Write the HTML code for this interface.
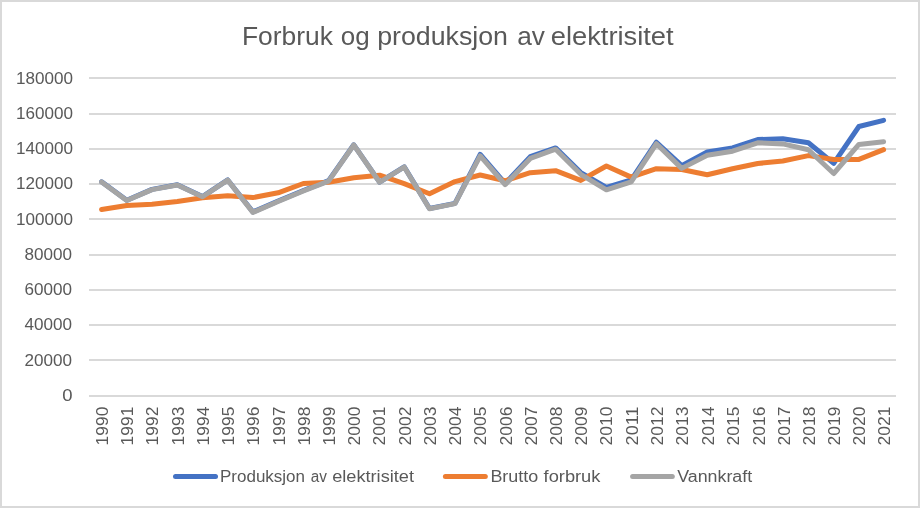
<!DOCTYPE html>
<html lang="no"><head><meta charset="utf-8"><title>Forbruk og produksjon av elektrisitet</title>
<style>
html,body{margin:0;padding:0;background:#fff;}
body{width:920px;height:508px;overflow:hidden;}
svg{display:block;}
text{font-family:"Liberation Sans",sans-serif;fill:#595959;}
.ax{font-size:16.2px;}
.title{font-size:25.2px;}
.lg{font-size:16px;}
</style></head><body>
<svg width="920" height="508" viewBox="0 0 920 508">
<rect x="0" y="0" width="920" height="508" fill="#fff"/>
<rect x="1" y="1" width="918" height="506" fill="none" stroke="#d9d9d9" stroke-width="2"/>
<g><text x="241.9" y="45.0" class="title" textLength="91.00" lengthAdjust="spacingAndGlyphs">Forbruk</text><text x="340.7" y="45.0" class="title" textLength="28.90" lengthAdjust="spacingAndGlyphs">og</text><text x="377.2" y="45.0" class="title" textLength="130.80" lengthAdjust="spacingAndGlyphs">produksjon</text><text x="517.2" y="45.0" class="title" textLength="27.70" lengthAdjust="spacingAndGlyphs">av</text><text x="550.8" y="45.0" class="title" textLength="122.80" lengthAdjust="spacingAndGlyphs">elektrisitet</text></g>
<g><line x1="89" x2="896" y1="396" y2="396" stroke="#d9d9d9" stroke-width="2"/><line x1="89" x2="896" y1="360" y2="360" stroke="#d9d9d9" stroke-width="2"/><line x1="89" x2="896" y1="325" y2="325" stroke="#d9d9d9" stroke-width="2"/><line x1="89" x2="896" y1="290" y2="290" stroke="#d9d9d9" stroke-width="2"/><line x1="89" x2="896" y1="255" y2="255" stroke="#d9d9d9" stroke-width="2"/><line x1="89" x2="896" y1="219" y2="219" stroke="#d9d9d9" stroke-width="2"/><line x1="89" x2="896" y1="184" y2="184" stroke="#d9d9d9" stroke-width="2"/><line x1="89" x2="896" y1="149" y2="149" stroke="#d9d9d9" stroke-width="2"/><line x1="89" x2="896" y1="114" y2="114" stroke="#d9d9d9" stroke-width="2"/><line x1="89" x2="896" y1="78" y2="78" stroke="#d9d9d9" stroke-width="2"/></g>
<g><text x="62.30" y="400.90" class="ax" textLength="10.30" lengthAdjust="spacingAndGlyphs">0</text><text x="24.50" y="365.65" class="ax" textLength="47.50" lengthAdjust="spacingAndGlyphs">20000</text><text x="24.50" y="330.40" class="ax" textLength="47.50" lengthAdjust="spacingAndGlyphs">40000</text><text x="24.50" y="295.15" class="ax" textLength="47.50" lengthAdjust="spacingAndGlyphs">60000</text><text x="24.50" y="259.90" class="ax" textLength="47.50" lengthAdjust="spacingAndGlyphs">80000</text><text x="16.10" y="224.65" class="ax" textLength="57.00" lengthAdjust="spacingAndGlyphs">100000</text><text x="16.10" y="189.40" class="ax" textLength="57.00" lengthAdjust="spacingAndGlyphs">120000</text><text x="16.10" y="154.15" class="ax" textLength="57.00" lengthAdjust="spacingAndGlyphs">140000</text><text x="16.10" y="118.90" class="ax" textLength="57.00" lengthAdjust="spacingAndGlyphs">160000</text><text x="16.10" y="83.65" class="ax" textLength="57.00" lengthAdjust="spacingAndGlyphs">180000</text></g>
<g><text transform="translate(108.00,445.4) rotate(-90)" class="ax" textLength="38.8" lengthAdjust="spacingAndGlyphs">1990</text><text transform="translate(133.22,445.4) rotate(-90)" class="ax" textLength="38.8" lengthAdjust="spacingAndGlyphs">1991</text><text transform="translate(158.44,445.4) rotate(-90)" class="ax" textLength="38.8" lengthAdjust="spacingAndGlyphs">1992</text><text transform="translate(183.66,445.4) rotate(-90)" class="ax" textLength="38.8" lengthAdjust="spacingAndGlyphs">1993</text><text transform="translate(208.88,445.4) rotate(-90)" class="ax" textLength="38.8" lengthAdjust="spacingAndGlyphs">1994</text><text transform="translate(234.10,445.4) rotate(-90)" class="ax" textLength="38.8" lengthAdjust="spacingAndGlyphs">1995</text><text transform="translate(259.32,445.4) rotate(-90)" class="ax" textLength="38.8" lengthAdjust="spacingAndGlyphs">1996</text><text transform="translate(284.54,445.4) rotate(-90)" class="ax" textLength="38.8" lengthAdjust="spacingAndGlyphs">1997</text><text transform="translate(309.76,445.4) rotate(-90)" class="ax" textLength="38.8" lengthAdjust="spacingAndGlyphs">1998</text><text transform="translate(334.98,445.4) rotate(-90)" class="ax" textLength="38.8" lengthAdjust="spacingAndGlyphs">1999</text><text transform="translate(360.20,445.4) rotate(-90)" class="ax" textLength="38.8" lengthAdjust="spacingAndGlyphs">2000</text><text transform="translate(385.42,445.4) rotate(-90)" class="ax" textLength="38.8" lengthAdjust="spacingAndGlyphs">2001</text><text transform="translate(410.64,445.4) rotate(-90)" class="ax" textLength="38.8" lengthAdjust="spacingAndGlyphs">2002</text><text transform="translate(435.86,445.4) rotate(-90)" class="ax" textLength="38.8" lengthAdjust="spacingAndGlyphs">2003</text><text transform="translate(461.08,445.4) rotate(-90)" class="ax" textLength="38.8" lengthAdjust="spacingAndGlyphs">2004</text><text transform="translate(486.30,445.4) rotate(-90)" class="ax" textLength="38.8" lengthAdjust="spacingAndGlyphs">2005</text><text transform="translate(511.52,445.4) rotate(-90)" class="ax" textLength="38.8" lengthAdjust="spacingAndGlyphs">2006</text><text transform="translate(536.74,445.4) rotate(-90)" class="ax" textLength="38.8" lengthAdjust="spacingAndGlyphs">2007</text><text transform="translate(561.96,445.4) rotate(-90)" class="ax" textLength="38.8" lengthAdjust="spacingAndGlyphs">2008</text><text transform="translate(587.18,445.4) rotate(-90)" class="ax" textLength="38.8" lengthAdjust="spacingAndGlyphs">2009</text><text transform="translate(612.40,445.4) rotate(-90)" class="ax" textLength="38.8" lengthAdjust="spacingAndGlyphs">2010</text><text transform="translate(637.62,445.4) rotate(-90)" class="ax" textLength="38.8" lengthAdjust="spacingAndGlyphs">2011</text><text transform="translate(662.84,445.4) rotate(-90)" class="ax" textLength="38.8" lengthAdjust="spacingAndGlyphs">2012</text><text transform="translate(688.06,445.4) rotate(-90)" class="ax" textLength="38.8" lengthAdjust="spacingAndGlyphs">2013</text><text transform="translate(713.78,445.4) rotate(-90)" class="ax" textLength="38.8" lengthAdjust="spacingAndGlyphs">2014</text><text transform="translate(739.10,445.4) rotate(-90)" class="ax" textLength="38.8" lengthAdjust="spacingAndGlyphs">2015</text><text transform="translate(764.52,445.4) rotate(-90)" class="ax" textLength="38.8" lengthAdjust="spacingAndGlyphs">2016</text><text transform="translate(789.84,445.4) rotate(-90)" class="ax" textLength="38.8" lengthAdjust="spacingAndGlyphs">2017</text><text transform="translate(815.16,445.4) rotate(-90)" class="ax" textLength="38.8" lengthAdjust="spacingAndGlyphs">2018</text><text transform="translate(840.38,445.4) rotate(-90)" class="ax" textLength="38.8" lengthAdjust="spacingAndGlyphs">2019</text><text transform="translate(865.30,445.4) rotate(-90)" class="ax" textLength="38.8" lengthAdjust="spacingAndGlyphs">2020</text><text transform="translate(890.02,445.4) rotate(-90)" class="ax" textLength="38.8" lengthAdjust="spacingAndGlyphs">2021</text></g>
<polyline points="101.6,181.80 126.8,200.25 152.0,189.40 177.3,184.80 202.5,196.55 227.7,179.95 252.9,211.90 278.1,200.95 303.4,190.50 328.6,180.60 353.8,144.80 379.6,182.05 404.2,166.80 429.5,208.55 455.0,203.40 480.2,154.40 505.1,183.50 530.3,156.70 555.6,147.90 580.8,172.60 606.4,187.35 631.2,179.90 656.4,142.25 681.7,165.70 707.2,152.00 732.5,147.90 757.7,139.50 782.8,138.80 808.4,142.75 833.7,163.40 858.9,126.50 883.6,120.30" fill="none" stroke="#4472c4" stroke-width="5" stroke-linecap="round" stroke-linejoin="round"/>
<polyline points="101.6,209.50 126.8,205.50 152.0,204.30 177.3,201.50 202.5,197.70 227.7,195.70 252.9,197.60 278.1,192.80 303.4,183.50 328.6,182.30 353.8,177.80 379.6,175.20 404.2,183.60 429.5,193.70 455.0,181.60 480.2,175.00 505.1,180.80 530.3,172.70 555.6,170.70 580.8,180.40 606.4,165.95 631.2,177.10 656.4,168.70 681.7,169.50 707.2,174.70 732.5,168.70 757.7,163.50 782.8,161.00 808.4,155.60 833.7,159.55 858.9,159.40 883.6,149.60" fill="none" stroke="#ed7d31" stroke-width="5" stroke-linecap="round" stroke-linejoin="round"/>
<polyline points="101.6,182.00 126.8,200.45 152.0,189.60 177.3,185.00 202.5,196.75 227.7,180.15 252.9,212.40 278.1,201.45 303.4,191.00 328.6,181.10 353.8,145.00 379.6,182.25 404.2,167.00 429.5,208.75 455.0,203.60 480.2,155.90 505.1,184.70 530.3,158.40 555.6,149.20 580.8,174.30 606.4,189.85 631.2,181.90 656.4,143.75 681.7,168.40 707.2,155.25 732.5,151.20 757.7,142.80 782.8,143.90 808.4,149.70 833.7,173.50 858.9,144.40 883.6,141.80" fill="none" stroke="#a5a5a5" stroke-width="5" stroke-linecap="round" stroke-linejoin="round"/>
<g><line x1="175.5" x2="215.5" y1="476.45" y2="476.45" stroke="#4472c4" stroke-width="5" stroke-linecap="round"/><text x="220.0" y="482.1" class="lg" textLength="85.00" lengthAdjust="spacingAndGlyphs">Produksjon</text><text x="310.8" y="482.1" class="lg" textLength="16.20" lengthAdjust="spacingAndGlyphs">av</text><text x="332.2" y="482.1" class="lg" textLength="81.80" lengthAdjust="spacingAndGlyphs">elektrisitet</text><line x1="445.4" x2="485.3" y1="476.45" y2="476.45" stroke="#ed7d31" stroke-width="5" stroke-linecap="round"/><text x="490.4" y="482.1" class="lg" textLength="47.80" lengthAdjust="spacingAndGlyphs">Brutto</text><text x="543.6" y="482.1" class="lg" textLength="56.80" lengthAdjust="spacingAndGlyphs">forbruk</text><line x1="632.6" x2="672.3" y1="476.45" y2="476.45" stroke="#a5a5a5" stroke-width="5" stroke-linecap="round"/><text x="677.2" y="482.1" class="lg" textLength="75.00" lengthAdjust="spacingAndGlyphs">Vannkraft</text></g>
</svg>
</body></html>
